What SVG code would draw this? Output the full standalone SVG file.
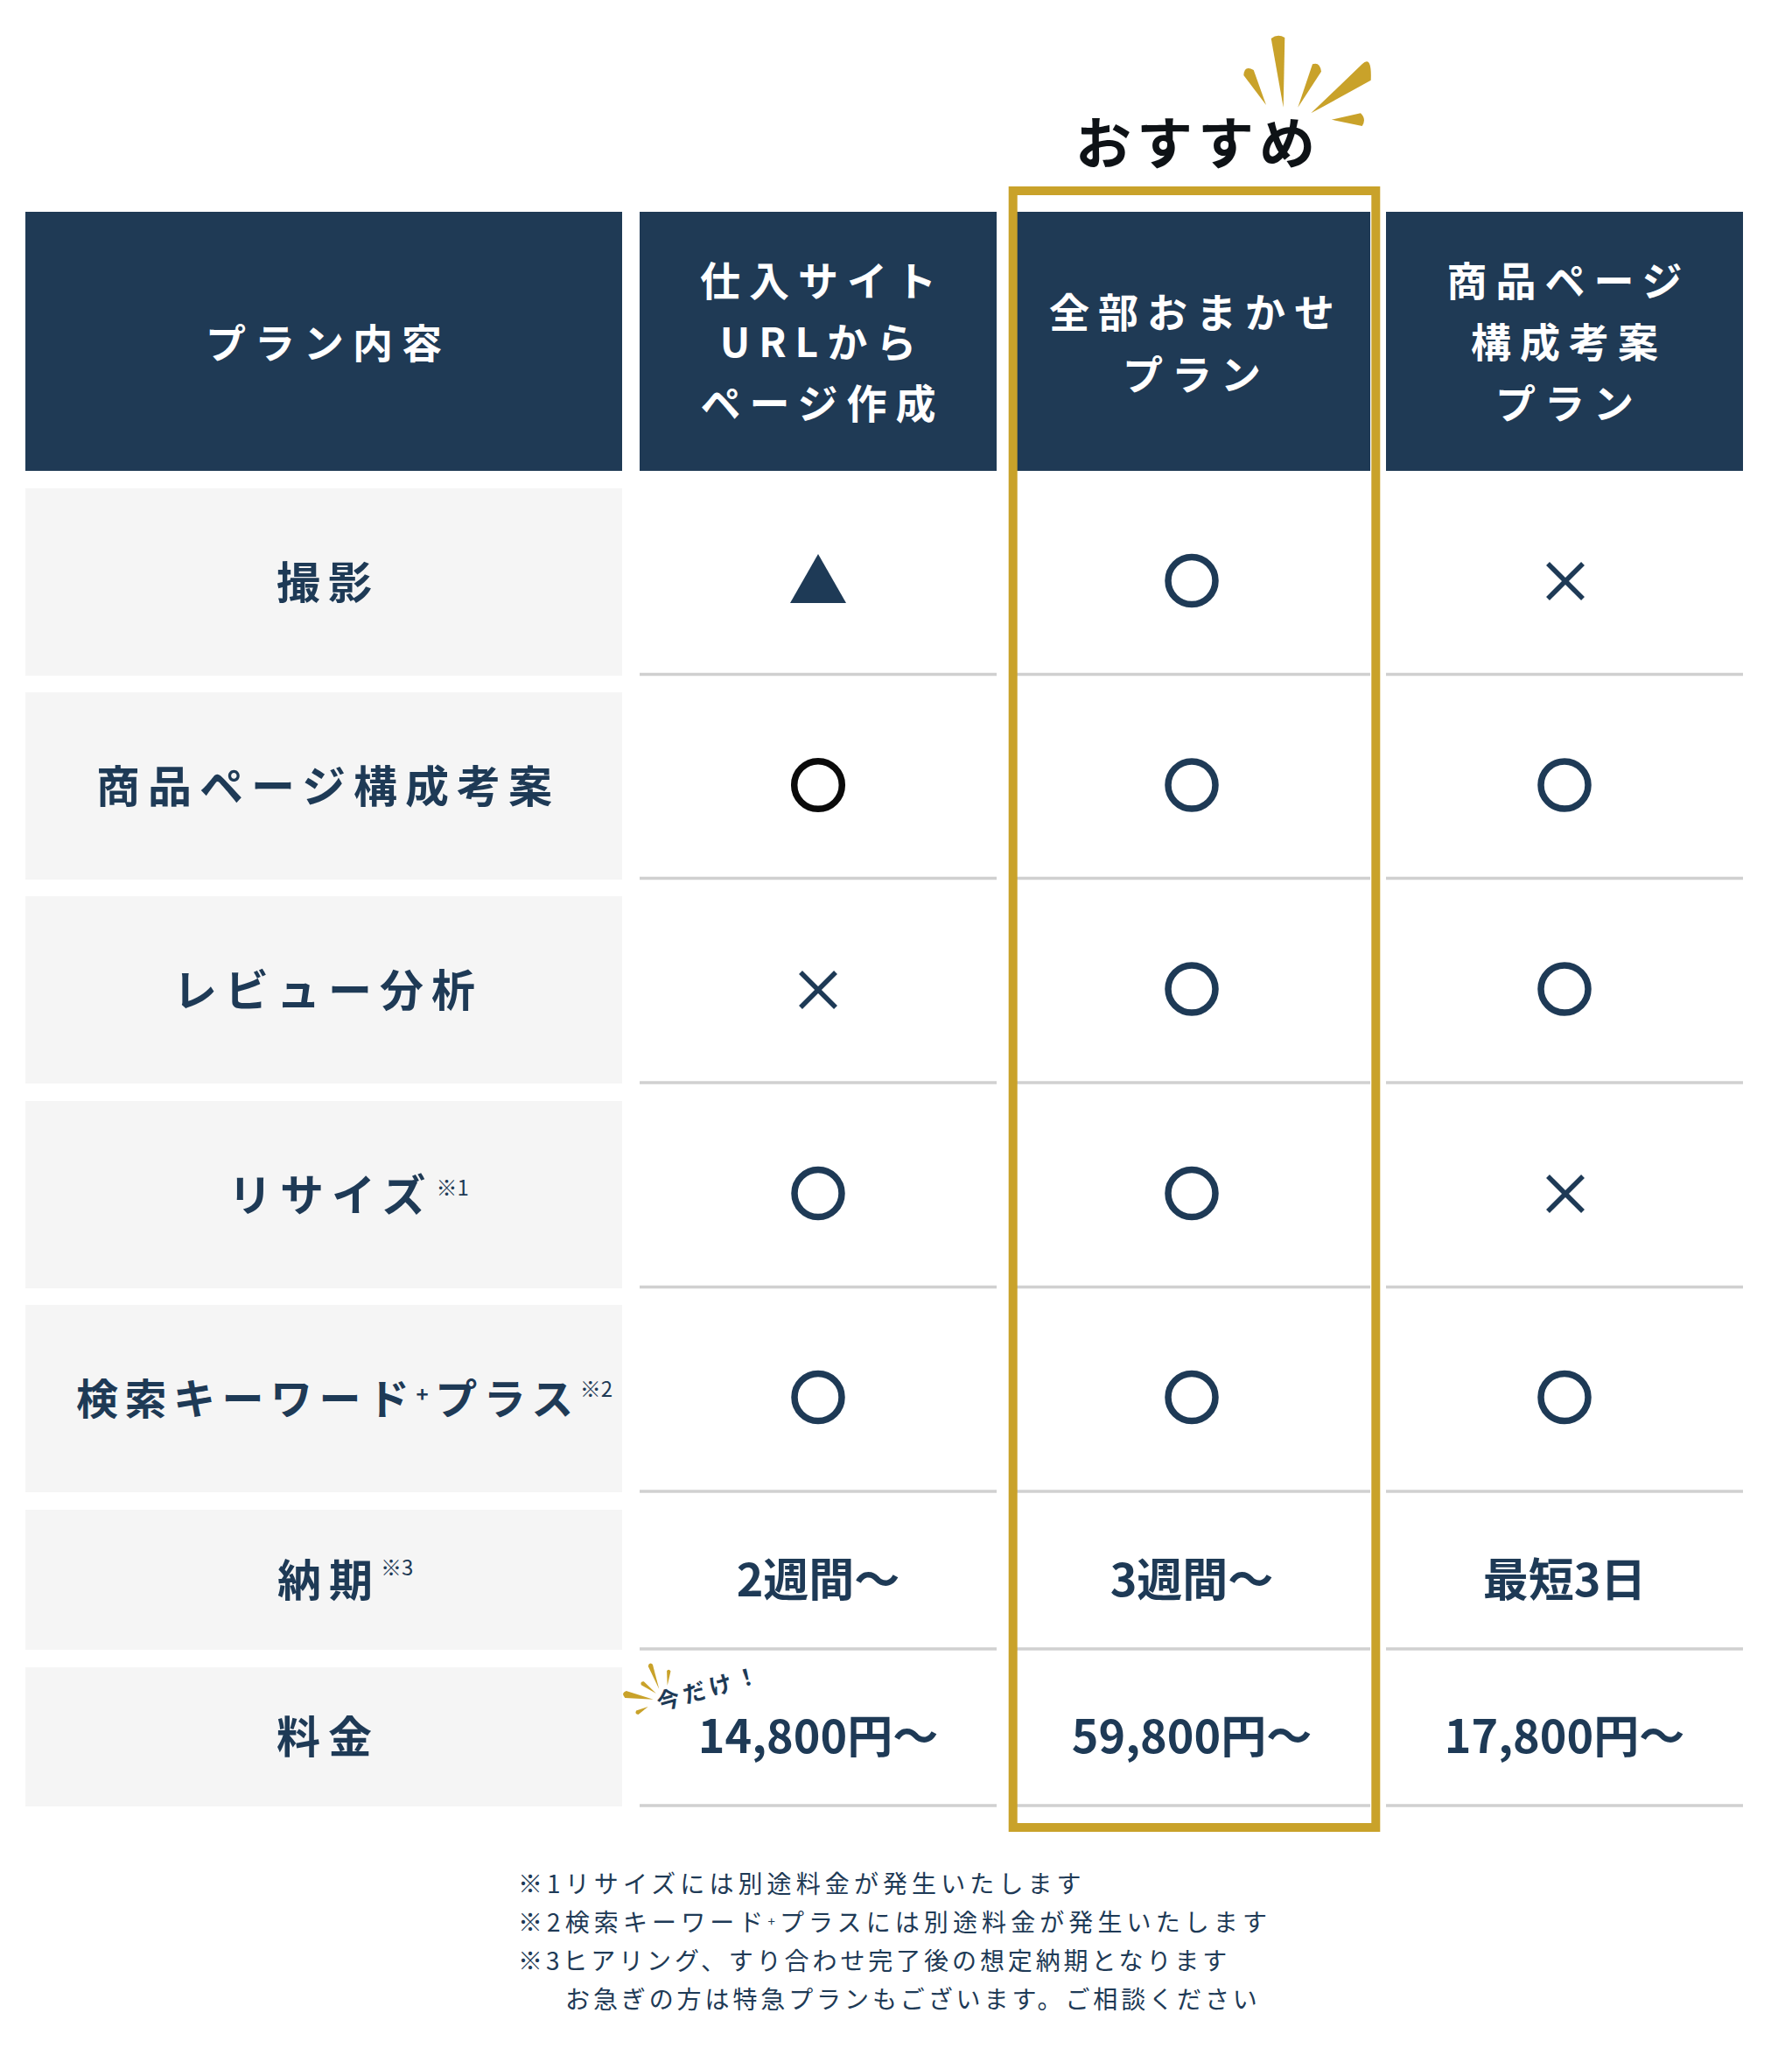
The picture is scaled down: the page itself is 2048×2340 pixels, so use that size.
<svg xmlns="http://www.w3.org/2000/svg" width="2048" height="2340" viewBox="0 0 2048 2340">
<style>
text{font-family:"Noto Sans CJK JP","Noto Sans",sans-serif;}
.hd{fill:#1f3a55;}
.lb{fill:#f5f5f5;}
.ht{fill:#ffffff;font-size:46px;font-weight:700;letter-spacing:10px;text-anchor:middle;}
.lt{fill:#1e3a56;font-size:50px;font-weight:700;letter-spacing:9px;text-anchor:middle;}
.ls{fill:#1e3a56;font-size:50px;font-weight:700;letter-spacing:9px;}
.sup{fill:#1e3a56;font-size:24px;font-weight:400;letter-spacing:0px;}
.val{fill:#1e3a56;font-size:52px;font-weight:700;text-anchor:middle;}
.sep{stroke:#d0d0d0;stroke-width:3.5;}
.ok{fill:none;stroke:#1e3a56;stroke-width:7.5;}
.ng{stroke:#1e3a56;stroke-width:5.5;}
.gold{fill:#c9a22a;}
.note{fill:#1e3a56;font-size:28px;font-weight:400;letter-spacing:5.1px;}
</style>
<rect width="2048" height="2340" fill="#ffffff"/>

<g id="recommend">
<text x="1369" y="187" style="font-size:64px;font-weight:700;letter-spacing:6px;text-anchor:middle;fill:#0e1216">おすすめ</text>
<path class="gold" d="M1447 120 L1421.3 86.1 Q1422 73.8 1432.7 79.9 Z"/>
<path class="gold" d="M1466.7 122.7 L1452.7 44.1 Q1460 38 1468.3 42.9 Z"/>
<path class="gold" d="M1483.3 122.7 L1500 73.3 Q1508.5 70.3 1510 81.7 Z"/>
<path class="gold" d="M1498.3 129.3 L1556.7 73.3 Q1568 62 1566.7 91.7 Q1530 112 1498.3 129.3 Z"/>
<path class="gold" d="M1521.7 136.7 L1555 129.3 Q1562 136 1556.7 144 Z"/>
</g>

<g id="header">
<rect class="hd" x="29" y="242" width="682" height="296"/>
<rect class="hd" x="731" y="242" width="408" height="296"/>
<rect class="hd" x="1158" y="242" width="408" height="296"/>
<rect class="hd" x="1584" y="242" width="408" height="296"/>
<text class="ht" x="375" y="409">プラン内容</text>
<text class="ht" x="940" y="338">仕入サイト</text>
<text class="ht" x="940" y="408">URLから</text>
<text class="ht" x="940" y="478">ページ作成</text>
<text class="ht" x="1367" y="374">全部おまかせ</text>
<text class="ht" x="1367" y="445">プラン</text>
<text class="ht" x="1793" y="338">商品ページ</text>
<text class="ht" x="1793" y="408">構成考案</text>
<text class="ht" x="1793" y="478">プラン</text>
</g>

<g id="labels">
<rect class="lb" x="29" y="558" width="682" height="214"/>
<rect class="lb" x="29" y="791" width="682" height="214"/>
<rect class="lb" x="29" y="1024" width="682" height="214"/>
<rect class="lb" x="29" y="1258" width="682" height="214"/>
<rect class="lb" x="29" y="1491" width="682" height="214"/>
<rect class="lb" x="29" y="1725" width="682" height="160"/>
<rect class="lb" x="29" y="1905" width="682" height="159"/>
<text class="lt" x="375" y="684">撮影</text>
<text class="lt" x="375" y="917">商品ページ構成考案</text>
<text class="lt" x="375" y="1150">レビュー分析</text>
<text class="ls" x="261" y="1384">リサイズ<tspan class="sup" dx="3" dy="-18">※1</tspan></text>
<text x="87" y="1616" style="fill:#1e3a56;font-size:48px;font-weight:700;letter-spacing:7.5px">検索キーワード<tspan font-size="24" dy="-14">+</tspan><tspan dy="14">プラス</tspan><tspan class="sup" dx="0" dy="-20">※2</tspan></text>
<text class="ls" x="317" y="1824">納期<tspan class="sup" dx="0" dy="-24">※3</tspan></text>
<text class="lt" x="375" y="2003">料金</text>
</g>

<g id="separators">
<line class="sep" x1="731" y1="770.5" x2="1139" y2="770.5"/>
<line class="sep" x1="1158" y1="770.5" x2="1566" y2="770.5"/>
<line class="sep" x1="1584" y1="770.5" x2="1992" y2="770.5"/>
<line class="sep" x1="731" y1="1003.5" x2="1139" y2="1003.5"/>
<line class="sep" x1="1158" y1="1003.5" x2="1566" y2="1003.5"/>
<line class="sep" x1="1584" y1="1003.5" x2="1992" y2="1003.5"/>
<line class="sep" x1="731" y1="1237" x2="1139" y2="1237"/>
<line class="sep" x1="1158" y1="1237" x2="1566" y2="1237"/>
<line class="sep" x1="1584" y1="1237" x2="1992" y2="1237"/>
<line class="sep" x1="731" y1="1470.5" x2="1139" y2="1470.5"/>
<line class="sep" x1="1158" y1="1470.5" x2="1566" y2="1470.5"/>
<line class="sep" x1="1584" y1="1470.5" x2="1992" y2="1470.5"/>
<line class="sep" x1="731" y1="1704" x2="1139" y2="1704"/>
<line class="sep" x1="1158" y1="1704" x2="1566" y2="1704"/>
<line class="sep" x1="1584" y1="1704" x2="1992" y2="1704"/>
<line class="sep" x1="731" y1="1884" x2="1139" y2="1884"/>
<line class="sep" x1="1158" y1="1884" x2="1566" y2="1884"/>
<line class="sep" x1="1584" y1="1884" x2="1992" y2="1884"/>
<line class="sep" x1="731" y1="2063" x2="1139" y2="2063"/>
<line class="sep" x1="1158" y1="2063" x2="1566" y2="2063"/>
<line class="sep" x1="1584" y1="2063" x2="1992" y2="2063"/>
</g>

<g id="col-url">
<polygon points="935,633 967,689 903,689" fill="#1e3a56"/>
<circle cx="935" cy="897" r="27.3" fill="none" stroke="#0a0a0a" stroke-width="7.5"/>
<g class="ng"><line x1="915" y1="1111" x2="955" y2="1151"/><line x1="955" y1="1111" x2="915" y2="1151"/></g>
<circle class="ok" cx="935" cy="1363.5" r="27"/>
<circle class="ok" cx="935" cy="1596.5" r="27"/>
<text class="val" x="935" y="1824">2週間〜</text>
<text class="val" x="935" y="2003">14,800円〜</text>
</g>

<g id="badge">
<path class="gold" d="M753.3 1930 L740.7 1903.7 Q741.9 1898.8 745.9 1901.7 Z"/>
<path class="gold" d="M762.7 1926 L762.1 1909.1 Q764.6 1906 766.5 1909.5 Z"/>
<path class="gold" d="M750 1935 L732.8 1925.3 Q731.3 1921.1 735.8 1921.3 Z"/>
<path class="gold" d="M746.7 1941.7 L714.3 1939.9 Q709.1 1934.9 715.7 1932.1 Z"/>
<path class="gold" d="M740.7 1950 L729.5 1958.9 Q725 1958.5 727.1 1954.5 Z"/>
<text x="754" y="1955" transform="rotate(-16 754 1955)" style="fill:#1e3a56;font-size:26px;font-weight:700;letter-spacing:5px">今だけ！</text>
</g>

<g id="col-all">
<circle class="ok" cx="1362" cy="663.5" r="27"/>
<circle class="ok" cx="1362" cy="897" r="27"/>
<circle class="ok" cx="1362" cy="1130" r="27"/>
<circle class="ok" cx="1362" cy="1363.5" r="27"/>
<circle class="ok" cx="1362" cy="1596.5" r="27"/>
<text class="val" x="1362" y="1824">3週間〜</text>
<text class="val" x="1362" y="2003">59,800円〜</text>
</g>

<g id="col-page">
<g class="ng"><line x1="1769" y1="644" x2="1809" y2="684"/><line x1="1809" y1="644" x2="1769" y2="684"/></g>
<circle class="ok" cx="1788" cy="897" r="27"/>
<circle class="ok" cx="1788" cy="1130" r="27"/>
<g class="ng"><line x1="1769" y1="1344" x2="1809" y2="1384"/><line x1="1809" y1="1344" x2="1769" y2="1384"/></g>
<circle class="ok" cx="1788" cy="1596.5" r="27"/>
<text class="val" x="1788" y="1824">最短3日</text>
<text class="val" x="1788" y="2003">17,800円〜</text>
</g>

<g id="frame">
<rect x="1157.7" y="218" width="414.6" height="1870" fill="none" stroke="#c9a22a" stroke-width="10"/>
</g>

<g id="notes">
<text class="note" x="592" y="2163">※1リサイズには別途料金が発生いたします</text>
<text class="note" x="592" y="2207">※2検索キーワード<tspan font-size="15" dy="-6">+</tspan><tspan dy="6">プラスには別途料金が発生いたします</tspan></text>
<text class="note" x="592" y="2251" style="letter-spacing:3.9px">※3ヒアリング、すり合わせ完了後の想定納期となります</text>
<text class="note" x="646" y="2295" style="letter-spacing:3.9px">お急ぎの方は特急プランもございます。ご相談ください</text>
</g>
</svg>
